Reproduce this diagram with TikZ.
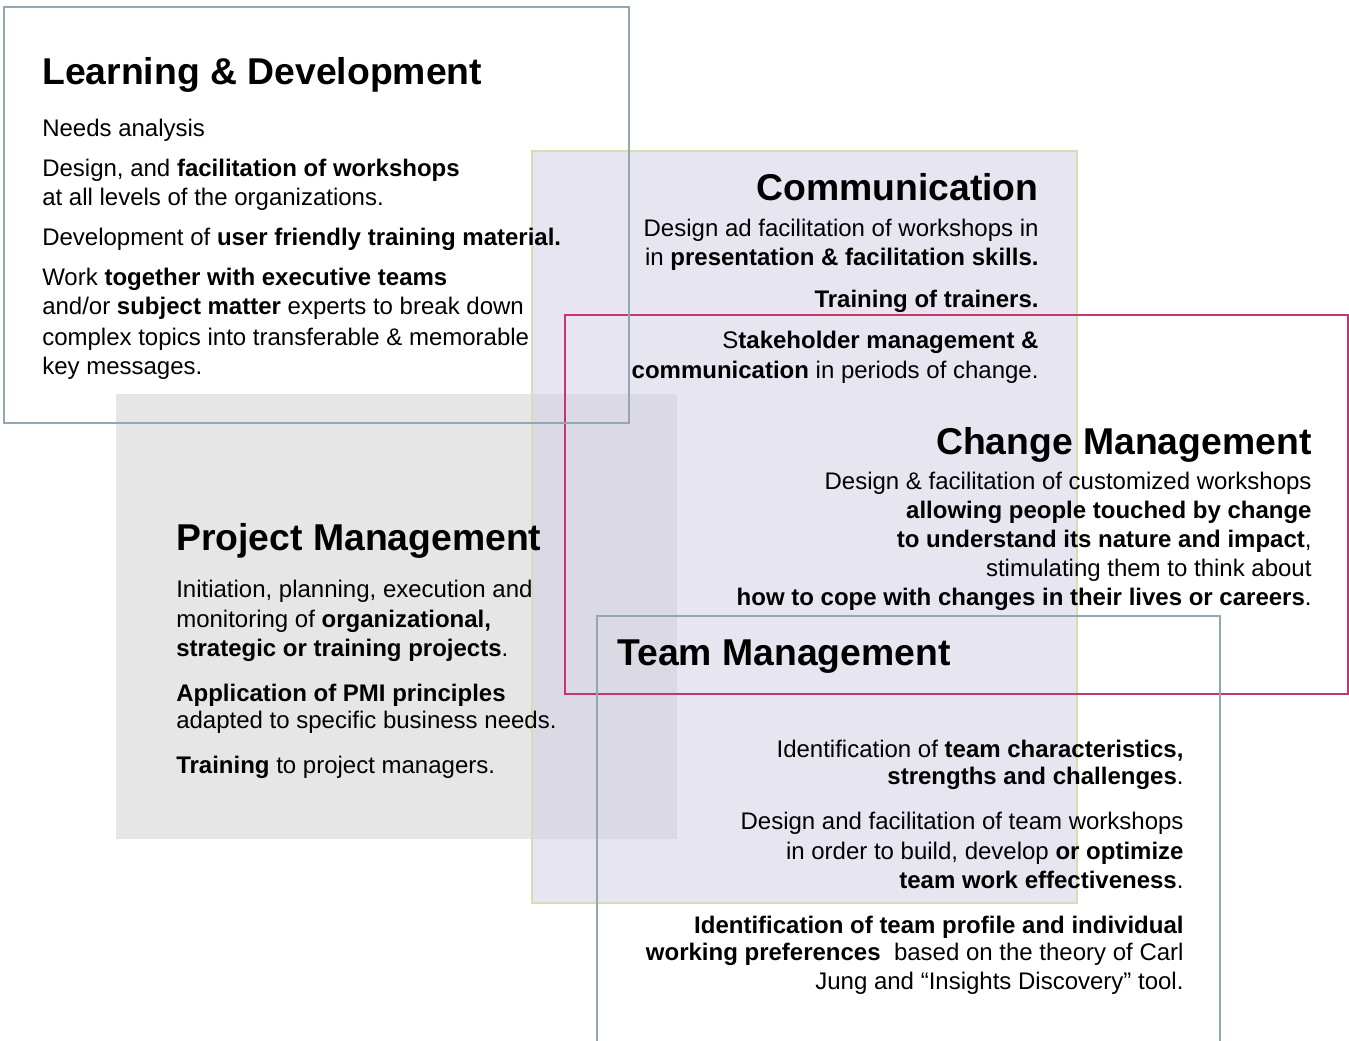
\documentclass[tikz,border=0pt]{standalone}
\usepackage{fontspec}
\setmainfont{Liberation Sans}
\definecolor{ldblue}{HTML}{92A7B3}
\definecolor{cmred}{HTML}{C6356F}
\definecolor{cgreen}{HTML}{D3DFB3}
\definecolor{lav}{HTML}{D1CDE1}
\definecolor{pmgray}{HTML}{E6E6E6}
\begin{document}
\begin{tikzpicture}[x=0.75pt,y=-0.75pt,
 head/.style={font=\fontsize{28}{34}\selectfont\bfseries, inner sep=0},
 body/.style={font=\fontsize{18}{22}\selectfont, inner sep=0},
 L/.style={anchor=base west}, R/.style={anchor=base east, xshift=0.6pt},
 frame/.style={line width=1.5pt}]
\useasboundingbox (0,0) rectangle (1349,1041);
\fill[white] (0,0) rectangle (1349,1041);
% fills
\fill[pmgray] (116,394) rectangle (677,839);
\fill[lav, fill opacity=0.5] (532,151) rectangle (1077,903);
% frames
\draw[frame, cgreen] (532,151) rectangle (1077,903);
\draw[frame, cmred] (565,315) rectangle (1348,694);
\draw[frame, ldblue] (4,7) rectangle (629,423);
\draw[frame, ldblue] (597,1045) -- (597,616) -- (1220,616) -- (1220,1045);

\begin{scope}[yshift=-1.5pt]
% Learning & Development
\node[head, L] (ldh) at (42,83) {Learning \& Development};
\node[body, L] (ld1) at (42,135) {Needs analysis};
\node[body, L] (ld2) at (42,175) {Design, and \textbf{facilitation of workshops}};
\node[body, L] (ld3) at (42,204) {at all levels of the organizations.};
\node[body, L] (ld4) at (42,244) {Development of \textbf{user friendly training material.}};
\node[body, L] (ld5) at (42,284) {Work \textbf{together with executive teams}};
\node[body, L] (ld6) at (42,313) {and/or \textbf{subject matter} experts to break down};
\node[body, L] (ld7) at (42,343) {complex topics into transferable \& memorable};
\node[body, L] (ld8) at (42,372) {key messages.};

% Communication
\node[head, R] (coh) at (1038,199) {Communication};
\node[body, R] (co1) at (1038,235) {Design ad facilitation of workshops in};
\node[body, R] (co2) at (1038,264) {in \textbf{presentation \& facilitation skills.}};
\node[body, R] (co3) at (1038,305) {\textbf{Training of trainers.}};
\node[body, R] (co4) at (1038,347) {S\textbf{takeholder management \&}};
\node[body, R] (co5) at (1038,376) {\textbf{communication} in periods of change.};

% Change Management
\node[head, R] (cmh) at (1311,452) {Change Management};
\node[body, R] (cm1) at (1311,487) {Design \& facilitation of customized workshops};
\node[body, R] (cm2) at (1311,516) {\textbf{allowing people touched by change}};
\node[body, R] (cm3) at (1311,545) {\textbf{to understand its nature and impact},};
\node[body, R] (cm4) at (1311,574) {stimulating them to think about};
\node[body, R] (cm5) at (1311,603) {\textbf{how to cope with changes in their lives or careers}.};

% Project Management
\node[head, L] (pmh) at (176,548) {Project Management};
\node[body, L] (pm1) at (176,595) {Initiation, planning, execution and};
\node[body, L] (pm2) at (176,625) {monitoring of \textbf{organizational,}};
\node[body, L] (pm3) at (176,654) {\textbf{strategic or training projects}.};
\node[body, L] (pm4) at (176,699) {\textbf{Application of PMI principles}};
\node[body, L] (pm5) at (176,726) {adapted to specific business needs.};
\node[body, L] (pm6) at (176,771) {\textbf{Training} to project managers.};

% Team Management
\node[head, L] (tmh) at (617,663) {Team Management};
\node[body, R] (tm1) at (1183,755) {Identification of \textbf{team characteristics,}};
\node[body, R] (tm2) at (1183,782) {\textbf{strengths and challenges}.};
\node[body, R] (tm3) at (1183,827) {Design and facilitation of team workshops};
\node[body, R] (tm4) at (1183,857) {in order to build, develop \textbf{or optimize}};
\node[body, R] (tm5) at (1183,886) {\textbf{team work effectiveness}.};
\node[body, R] (tm6) at (1183,931) {\textbf{Identification of team profile and individual}};
\node[body, R] (tm7) at (1183,958) {\textbf{working preferences}\ \ based on the theory of Carl};
\node[body, R] (tm8) at (1183,987) {Jung and “Insights Discovery” tool.};
\end{scope}
\end{tikzpicture}
\end{document}
